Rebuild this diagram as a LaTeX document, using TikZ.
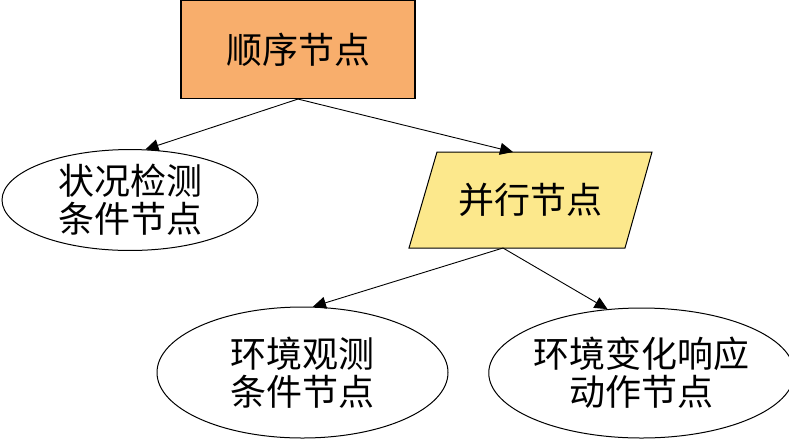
\documentclass[tikz,border=0pt]{standalone}
\usepackage{fontspec}
\newfontfamily\cjk{Noto Sans CJK SC}
\usetikzlibrary{shapes.geometric,arrows.meta}
\definecolor{seqorange}{RGB}{248,174,108}
\definecolor{paryellow}{RGB}{252,232,140}
\tikzset{
  lbl/.style={font=\cjk\fontsize{36}{38}\selectfont, align=center, text=black},
  ell/.style={draw=black, line width=1pt, ellipse, inner sep=0pt, fill=white},
  conn/.style={draw=black, line width=0.9pt, -{Triangle[length=13pt,width=12pt]}}
}
\begin{document}
\begin{tikzpicture}[x=1pt,y=-1pt]
\useasboundingbox (0,0) rectangle (789,440);
\fill[white] (0,0) rectangle (789,440);
% top sequence node
\node[lbl, draw=black, line width=1.1pt, fill=seqorange, rectangle,
      minimum width=234pt, minimum height=98pt, inner sep=0pt] (seq) at (298,49.5) {顺序节点};
% left ellipse
\node[ell, lbl, minimum width=256pt, minimum height=94pt] (cond1) at (130,200) {状况检测\\条件节点};
% parallel node (parallelogram)
\fill[paryellow, draw=black, line width=1pt] (437,152) -- (652,152) -- (625,248) -- (409,248) -- cycle;
\node[lbl] (par) at (530.5,200) {并行节点};
\coordinate (partop) at (513,152);
\coordinate (parbot) at (503,248);
% bottom ellipses
\node[ell, lbl, minimum width=291pt, minimum height=131pt] (cond2) at (302.5,372.5) {环境观测\\条件节点};
\node[ell, lbl, minimum width=293pt, minimum height=130pt] (act) at (641.5,373) {环境变化响应\\动作节点};
% connectors
\draw[conn] (seq.south) -- (cond1.73);
\draw[conn] (seq.south) -- (partop);
\draw[conn] (parbot) -- (cond2.81);
\draw[conn] (parbot) -- (act.118);
\end{tikzpicture}
\end{document}
